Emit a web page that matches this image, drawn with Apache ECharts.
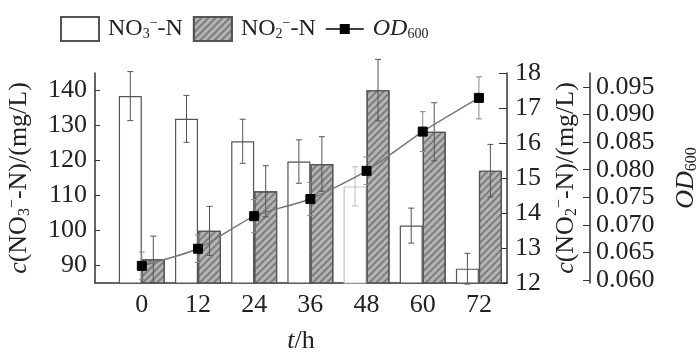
<!DOCTYPE html>
<html>
<head>
<meta charset="utf-8">
<script src="https://cdn.jsdelivr.net/npm/echarts@6/dist/echarts.min.js"></script>
<style>
  html, body { margin: 0; padding: 0; background: #fff; }
  #chart { width: 700px; height: 352px; }
</style>
</head>
<body>
<div id="chart"></div>
<script>
// sampling times (h)
const hours = [0, 12, 24, 36, 48, 60, 72];
const hourLabels = [0, 12, 24, 36, 48, 60, 72];

// nitrate (mg/L), left axis
const no3 = [138.4, 131.9, 125.5, 119.7, 112.6, 101.4, 89.1];
const no3Err = [7.0, 6.7, 6.3, 6.2, 5.6, 5.0, 4.4];

// nitrite (mg/L), first right axis
const no2 = [12.68, 13.49, 14.62, 15.40, 17.51, 16.32, 15.21];
const no2Err = [0.66, 0.70, 0.73, 0.78, 0.88, 0.83, 0.75];

// OD600, second right axis
const od = [0.0626, 0.0657, 0.0716, 0.0747, 0.0798, 0.0869, 0.0930];
const odErr = [0.0025, 0.0025, 0.0030, 0.0030, 0.0025, 0.0036, 0.0038];

const leftTicks = [90, 100, 110, 120, 130, 140];
const odTicks = [0.060, 0.065, 0.070, 0.075, 0.080, 0.085, 0.090, 0.095];

const FONT = 'Liberation Serif';
const INK = '#222';
const AXIS = '#333';
const BAR_W = 23;
const FADED = 4; // the 48 h nitrate bar is printed faintly in the source

const chart = echarts.init(document.getElementById('chart'));

const pairs = (vals) => hours.map((h, i) => [h, vals[i]]);
const triples = (vals, errs) => hours.map((h, i) => [h, vals[i], errs[i]]);

function errRenderer(shift, color, fadedColor) {
  return function (params, api) {
    const x = api.value(0), v = api.value(1), e = api.value(2);
    const top = api.coord([x, v + e]);
    const bot = api.coord([x, v - e]);
    const cx = top[0] + shift;
    const stroke = fadedColor && params.dataIndex === FADED ? fadedColor : color;
    const style = { stroke, lineWidth: 1 };
    return {
      type: 'group',
      children: [
        { type: 'line', shape: { x1: cx, y1: top[1], x2: cx, y2: bot[1] }, style },
        { type: 'line', shape: { x1: cx - 3, y1: top[1], x2: cx + 3, y2: top[1] }, style },
        { type: 'line', shape: { x1: cx - 3, y1: bot[1], x2: cx + 3, y2: bot[1] }, style }
      ]
    };
  };
}

function rich(size) {
  const sm = Math.round(size * 0.6);
  return {
    n: { fontFamily: FONT, fontSize: size, color: INK },
    i: { fontFamily: FONT, fontSize: size, color: INK, fontStyle: 'italic' },
    sub: { fontFamily: FONT, fontSize: sm, color: INK, verticalAlign: 'bottom', padding: [Math.round(size * 0.45), 0, 0, 0] },
    sup: { fontFamily: FONT, fontSize: sm, color: INK, verticalAlign: 'top', padding: [0, 0, Math.round(size * 0.45), 0] }
  };
}

const legendNames = {
  'NO3-N': '{n|NO}{sub|3}{sup|−}{n|-N}',
  'NO2-N': '{n|NO}{sub|2}{sup|−}{n|-N}',
  'OD600': '{i|OD}{sub|600}'
};

// line + small square, bbox kept at 38x24 so it is not stretched
const lineIcon = 'path://M0,0M0,24M0,11.3H38V12.7H0Z M14,7H24V17H14Z';

const no3Data = pairs(no3).map((d, i) =>
  i === FADED ? { value: d, itemStyle: { borderColor: '#c4c4c4' } } : d);

const option = {
  backgroundColor: '#fff',
  animation: false,
  textStyle: { fontFamily: FONT, color: INK },
  legend: {
    top: 11,
    left: 55,
    itemWidth: 38,
    itemHeight: 24,
    itemGap: 10,
    data: [
      { name: 'NO3-N', icon: 'rect' },
      { name: 'NO2-N', icon: 'rect' },
      { name: 'OD600', icon: lineIcon }
    ],
    formatter: (name) => legendNames[name],
    textStyle: { rich: rich(24), padding: [0, 0, 0, 4] }
  },
  grid: {
    left: 95, right: 193, top: 73, bottom: 69,
    containLabel: false,
    outerBoundsMode: 'none'
  },
  xAxis: {
    type: 'value',
    min: -10,
    max: 78,
    name: '{i|t}{n|/h}',
    nameLocation: 'middle',
    nameGap: 45,
    nameTextStyle: { rich: rich(26) },
    axisLine: { onZero: false, lineStyle: { color: AXIS, width: 1.5 } },
    axisTick: { show: false },
    splitLine: { show: false },
    axisLabel: {
      customValues: hourLabels,
      fontFamily: FONT, fontSize: 26, color: INK, margin: 9
    }
  },
  yAxis: [
    {
      type: 'value',
      position: 'left',
      min: 85,
      max: 145,
      name: '{i|c}{n|(NO}{sub|3}{sup|−}{n|-N)/(mg/L)}',
      nameLocation: 'middle',
      nameRotate: 90,
      nameGap: 62,
      nameTextStyle: { rich: rich(26) },
      axisLine: { show: true, onZero: false, lineStyle: { color: AXIS, width: 1.5 } },
      axisTick: { inside: true, length: 5, customValues: leftTicks, lineStyle: { color: AXIS } },
      axisLabel: { customValues: leftTicks, fontFamily: FONT, fontSize: 26, color: INK, margin: 8 },
      splitLine: { show: false }
    },
    {
      type: 'value',
      position: 'right',
      min: 12,
      max: 18,
      interval: 1,
      name: '{i|c}{n|(NO}{sub|2}{sup|−}{n|-N)/(mg/L)}',
      nameLocation: 'middle',
      nameRotate: 90,
      nameGap: 43,
      nameTextStyle: { rich: rich(26) },
      axisLine: { show: true, onZero: false, lineStyle: { color: AXIS, width: 1.5 } },
      axisTick: { inside: true, length: 8, lineStyle: { color: AXIS } },
      axisLabel: { fontFamily: FONT, fontSize: 26, color: INK, margin: 8 },
      splitLine: { show: false }
    },
    {
      type: 'value',
      position: 'right',
      offset: 83,
      min: 0.0595,
      max: 0.0975,
      name: '{i|OD}{sub|600}',
      nameLocation: 'middle',
      nameRotate: 90,
      nameGap: 82,
      nameTextStyle: { rich: rich(26) },
      axisLine: { show: true, onZero: false, lineStyle: { color: AXIS, width: 1.5 } },
      axisTick: { inside: true, length: 7, customValues: odTicks, lineStyle: { color: AXIS } },
      axisLabel: {
        customValues: odTicks,
        formatter: (v) => v.toFixed(3),
        fontFamily: FONT, fontSize: 26, color: INK, margin: 6
      },
      splitLine: { show: false }
    }
  ],
  series: [
    {
      name: 'NO3-N',
      type: 'bar',
      yAxisIndex: 0,
      barWidth: BAR_W,
      barGap: '0%',
      data: no3Data,
      itemStyle: { color: '#fff', borderColor: '#555', borderWidth: 1.2 }
    },
    {
      name: 'NO2-N',
      type: 'bar',
      yAxisIndex: 1,
      barWidth: BAR_W,
      barGap: '0%',
      data: pairs(no2),
      itemStyle: {
        color: '#b4b4b4',
        borderColor: '#555',
        borderWidth: 1.2,
        decal: {
          symbol: 'rect',
          symbolSize: 1,
          dashArrayX: [1, 0],
          dashArrayY: [1.2, 3],
          rotation: -Math.PI / 4,
          color: 'rgba(70,70,70,0.5)'
        }
      }
    },
    {
      type: 'custom',
      yAxisIndex: 0,
      z: 5,
      clip: false,
      renderItem: errRenderer(-BAR_W / 2, '#555', '#bbb'),
      encode: { x: 0, y: 1 },
      data: triples(no3, no3Err)
    },
    {
      type: 'custom',
      yAxisIndex: 1,
      z: 5,
      clip: false,
      renderItem: errRenderer(BAR_W / 2, '#555'),
      encode: { x: 0, y: 1 },
      data: triples(no2, no2Err)
    },
    {
      type: 'custom',
      yAxisIndex: 2,
      z: 5,
      clip: false,
      renderItem: errRenderer(0, '#888'),
      encode: { x: 0, y: 1 },
      data: triples(od, odErr)
    },
    {
      name: 'OD600',
      type: 'line',
      yAxisIndex: 2,
      z: 6,
      smooth: 0.2,
      data: pairs(od),
      symbol: 'rect',
      symbolSize: 9,
      lineStyle: { color: '#777', width: 1.5 },
      itemStyle: { color: '#000', borderColor: '#000' }
    }
  ]
};

chart.setOption(option);
</script>
</body>
</html>
